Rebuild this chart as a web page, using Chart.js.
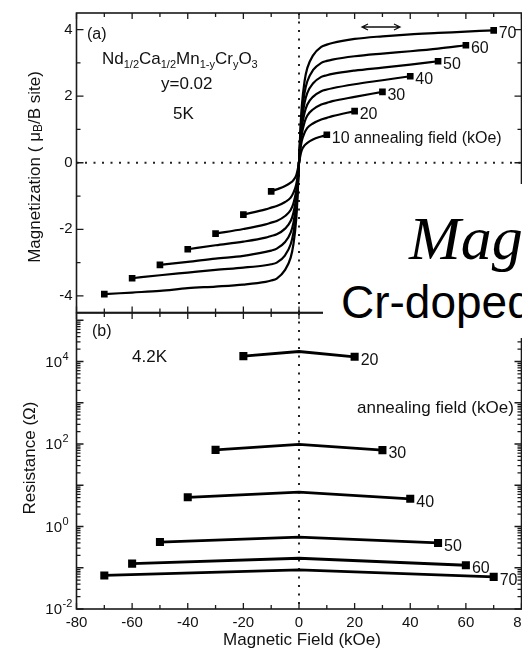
<!DOCTYPE html>
<html>
<head>
<meta charset="utf-8">
<script src="https://cdn.jsdelivr.net/npm/chart.js@4/dist/chart.umd.min.js"></script>
<style>
  html, body { margin: 0; padding: 0; background: #fff; overflow: hidden; }
  body { width: 522px; height: 653px; position: relative; }
  canvas { position: absolute; left: 0; }
  #slideBox { position: absolute; left: 323px; top: 184px; width: 230px; height: 154px; background: #fff; z-index: 5; overflow: visible; }
  #slideTitle { position: absolute; left: 86px; top: 23px; font: italic 62px "Liberation Serif", "Times New Roman", serif; line-height: 1; white-space: nowrap; color: #000; }
  #slideSub { position: absolute; left: 18px; top: 95px; font: 46px "Liberation Sans", Arial, sans-serif; line-height: 1; white-space: nowrap; color: #000; }
</style>
</head>
<body>
<canvas id="panelA" width="560" height="330" style="top:0"></canvas>
<canvas id="panelB" width="560" height="353" style="top:300px"></canvas>
<div id="slideBox">
  <div id="slideTitle">Magnetic</div>
  <div id="slideSub">Cr-doped</div>
</div>
<script>
// Panel (a): magnetization curves, one per annealing field (kOe)
const annealFields = [10, 20, 30, 40, 50, 60, 70];
const magField = [-70, -60, -50, -40, -30, -20, -12, -10, -8, -5, -3, -2, -1, -0.5, 0, 0.5, 1, 2, 3, 5, 8, 10, 12, 20, 30, 40, 50, 60, 70];
const mag10 = [null, null, null, null, null, null, null, -0.86, -0.8, -0.7, -0.6, -0.52, -0.38, -0.22, 0, 0.22, 0.38, 0.52, 0.6, 0.7, 0.79, 0.84, null, null, null, null, null, null, null];
const mag20 = [null, null, null, null, null, -1.56, -1.4, -1.35, -1.3, -1.18, -1.05, -0.9, -0.65, -0.4, 0, 0.4, 0.65, 0.9, 1.05, 1.18, 1.3, 1.35, 1.4, 1.55, null, null, null, null, null];
const mag30 = [null, null, null, null, -2.13, -1.99, -1.85, -1.8, -1.75, -1.6, -1.42, -1.22, -0.85, -0.52, 0, 0.52, 0.85, 1.22, 1.42, 1.6, 1.75, 1.8, 1.85, 1.98, 2.13, null, null, null, null];
const mag40 = [null, null, null, -2.6, -2.48, -2.37, -2.25, -2.2, -2.15, -1.98, -1.75, -1.5, -1.05, -0.62, 0, 0.62, 1.05, 1.5, 1.75, 1.98, 2.15, 2.2, 2.24, 2.36, 2.48, 2.6, null, null, null];
const mag50 = [null, null, -3.07, -2.98, -2.88, -2.8, -2.68, -2.64, -2.58, -2.38, -2.1, -1.8, -1.25, -0.75, 0, 0.75, 1.25, 1.8, 2.1, 2.38, 2.58, 2.63, 2.67, 2.77, 2.86, 2.95, 3.05, null, null];
const mag60 = [null, -3.47, -3.38, -3.3, -3.22, -3.15, -3.08, -3.05, -3.0, -2.78, -2.45, -2.1, -1.45, -0.85, 0, 0.85, 1.45, 2.1, 2.45, 2.78, 3.0, 3.06, 3.1, 3.2, 3.28, 3.35, 3.43, 3.53, null];
const mag70 = [-3.95, -3.9, -3.85, -3.77, -3.72, -3.66, -3.58, -3.54, -3.48, -3.22, -2.85, -2.45, -1.7, -1.0, 0, 1.0, 1.7, 2.45, 2.85, 3.22, 3.48, 3.55, 3.6, 3.72, 3.8, 3.86, 3.9, 3.94, 3.98];
const magCurves = [mag10, mag20, mag30, mag40, mag50, mag60, mag70];
const magEndLabels = ['10 annealing field (kOe)', '20', '30', '40', '50', '60', '70'];

// Panel (b): resistance at -H, 0, +H for each annealing field
const resAnneal = [20, 30, 40, 50, 60, 70];
const resLeft = [1.35e4, 72, 5.1, 0.42, 0.126, 0.065];
const resZero = [1.75e4, 98, 6.8, 0.55, 0.17, 0.089];
const resRight = [1.3e4, 71, 4.7, 0.40, 0.115, 0.060];
const resEndLabels = ['20', '30', '40', '50', '60', '70'];

// ticks
const xTickValues = [-80, -70, -60, -50, -40, -30, -20, -10, 0, 10, 20, 30, 40, 50, 60, 70, 80];
const magTickValues = [-4, -3, -2, -1, 0, 1, 2, 3, 4];
const magLabelValues = [-4, -2, 0, 2, 4];
const resDecades = [0.01, 0.1, 1, 10, 100, 1000, 10000, 100000];
const resLabelValues = [0.01, 1, 100, 10000];
const resLabelExps = ['-2', '0', '2', '4'];
const resMax = 1.5e5;

const FONT = '"Liberation Sans", Arial, sans-serif';
const INK = '#111';

function tickX(ctx, a, scale, values, isMajor) {
    values.forEach(v => {
        const p = scale.getPixelForValue(v);
        const len = isMajor(v) ? 6 : 4;
        ctx.moveTo(p, a.bottom); ctx.lineTo(p, a.bottom - len);
        ctx.moveTo(p, a.top); ctx.lineTo(p, a.top + len);
    });
}

function tickY(ctx, a, scale, values, isMajor) {
    values.forEach(v => {
        const p = scale.getPixelForValue(v);
        const len = isMajor(v) ? 7 : 4;
        ctx.moveTo(a.left, p); ctx.lineTo(a.left + len, p);
        ctx.moveTo(a.right, p); ctx.lineTo(a.right - len, p);
    });
}

function dottedLines(ctx, a, x, y, withZeroY) {
    ctx.save();
    ctx.strokeStyle = '#222';
    ctx.lineWidth = 2;
    ctx.setLineDash([2, 6.5]);
    ctx.beginPath();
    const px = x.getPixelForValue(0);
    ctx.moveTo(px, a.top); ctx.lineTo(px, a.bottom);
    if (withZeroY) {
        const py = y.getPixelForValue(0);
        ctx.moveTo(a.left, py); ctx.lineTo(a.right, py);
    }
    ctx.stroke();
    ctx.restore();
}

function frame(ctx, a) {
    ctx.strokeStyle = '#1a1a1a';
    ctx.lineWidth = 1.6;
    ctx.strokeRect(a.left, a.top, a.right - a.left, a.bottom - a.top);
}

function endLabels(chart, labels, dx, dy) {
    const ctx = chart.ctx;
    ctx.fillStyle = INK;
    ctx.font = '16px ' + FONT;
    ctx.textAlign = 'left';
    ctx.textBaseline = 'middle';
    labels.forEach((txt, i) => {
        const pts = chart.getDatasetMeta(i).data;
        const last = pts[pts.length - 1];
        ctx.fillText(txt, last.x + dx, last.y + dy);
    });
}

// draws text pieces with subscripts, starting at x
function richText(ctx, x, y, parts, big, small) {
    parts.forEach(([t, sub]) => {
        ctx.font = (sub ? small : big) + 'px ' + FONT;
        ctx.fillText(t, x, sub ? y + 4 : y);
        x += ctx.measureText(t).width;
    });
}

function richWidth(ctx, parts, big, small) {
    let w = 0;
    parts.forEach(([t, sub]) => {
        ctx.font = (sub ? small : big) + 'px ' + FONT;
        w += ctx.measureText(t).width;
    });
    return w;
}

const decorA = {
    id: 'decorA',
    beforeDatasetsDraw(chart) {
        const { ctx, chartArea: a, scales: { x, y } } = chart;
        dottedLines(ctx, a, x, y, true);
    },
    afterDatasetsDraw(chart) {
        const { ctx, chartArea: a, scales: { x, y } } = chart;
        ctx.save();
        frame(ctx, a);
        ctx.beginPath();
        ctx.lineWidth = 1.3;
        tickX(ctx, a, x, xTickValues, v => v % 20 === 0);
        tickY(ctx, a, y, magTickValues, v => v % 2 === 0);
        ctx.stroke();

        endLabels(chart, magEndLabels, 5, 3.5);

        ctx.fillStyle = INK;
        ctx.textBaseline = 'alphabetic';
        ctx.textAlign = 'left';
        ctx.font = '16px ' + FONT;
        ctx.fillText('(a)', 87, 39);
        richText(ctx, 102, 64, [['Nd'], ['1/2', 1], ['Ca'], ['1/2', 1], ['Mn'], ['1-y', 1], ['Cr'], ['y', 1], ['O'], ['3', 1]], 17, 11);
        ctx.font = '17px ' + FONT;
        ctx.fillText('y=0.02', 161, 89);
        ctx.fillText('5K', 173, 119);

        // double arrow
        ctx.strokeStyle = INK;
        ctx.lineWidth = 1.3;
        ctx.beginPath();
        ctx.moveTo(362, 27); ctx.lineTo(400, 27);
        ctx.moveTo(368, 24); ctx.lineTo(362, 27); ctx.lineTo(368, 30);
        ctx.moveTo(394, 24); ctx.lineTo(400, 27); ctx.lineTo(394, 30);
        ctx.stroke();

        // y title with subscript
        const parts = [['Magnetization ( \u03bc'], ['B', 1], ['/B site)']];
        const w = richWidth(ctx, parts, 17, 12);
        ctx.translate(35, 167);
        ctx.rotate(-Math.PI / 2);
        ctx.textBaseline = 'middle';
        richText(ctx, -w / 2, 0, parts, 17, 12);
        ctx.restore();
    }
};

const decorB = {
    id: 'decorB',
    beforeDatasetsDraw(chart) {
        const { ctx, chartArea: a, scales: { x, y } } = chart;
        dottedLines(ctx, a, x, y, false);
    },
    afterDatasetsDraw(chart) {
        const { ctx, chartArea: a, scales: { x, y } } = chart;
        ctx.save();
        frame(ctx, a);
        const logTicks = [];
        resDecades.forEach(d => {
            for (let k = 1; k <= 9; k++) {
                if (d * k <= resMax) logTicks.push(d * k);
            }
        });
        ctx.beginPath();
        ctx.lineWidth = 1.3;
        tickX(ctx, a, x, xTickValues, v => v % 20 === 0);
        tickY(ctx, a, y, logTicks, v => resDecades.includes(v));
        ctx.stroke();

        endLabels(chart, resEndLabels, 6, 3.5);

        // log tick labels 10^n
        ctx.fillStyle = INK;
        ctx.textBaseline = 'middle';
        resLabelValues.forEach((v, i) => {
            const py = y.getPixelForValue(v);
            ctx.textAlign = 'right';
            ctx.font = '15px ' + FONT;
            ctx.fillText('10', 62, py + 1);
            ctx.textAlign = 'left';
            ctx.font = '11px ' + FONT;
            ctx.fillText(resLabelExps[i], 62.5, py - 5);
        });

        ctx.textAlign = 'left';
        ctx.font = '16px ' + FONT;
        ctx.fillText('(b)', 92, 32);
        ctx.font = '17px ' + FONT;
        ctx.fillText('4.2K', 132, 57);
        ctx.fillText('annealing field (kOe)', 357, 108);

        ctx.textAlign = 'center';
        ctx.fillText('Magnetic Field (kOe)', 302, 340);

        ctx.translate(30, 158);
        ctx.rotate(-Math.PI / 2);
        ctx.fillText('Resistance (\u03a9)', 0, 0);
        ctx.restore();
    }
};

function endPointRadius(r) {
    return ctx => {
        const n = ctx.dataset.data.length;
        return (ctx.dataIndex === 0 || ctx.dataIndex === n - 1) ? r : 0;
    };
}

const hiddenGrid = { display: false, drawTicks: false };

new Chart(document.getElementById('panelA'), {
    type: 'line',
    data: {
        datasets: magCurves.map((curve, i) => ({
            label: annealFields[i] + ' kOe',
            data: magField.map((h, j) => ({ x: h, y: curve[j] })).filter(p => p.y !== null),
            borderColor: '#000',
            borderWidth: 2.2,
            cubicInterpolationMode: 'monotone',
            pointStyle: 'rect',
            pointRadius: endPointRadius(4.7),
            pointBackgroundColor: '#000',
            pointBorderColor: '#000',
            pointBorderWidth: 0,
            fill: false
        }))
    },
    options: {
        responsive: false,
        animation: false,
        layout: { padding: { left: 0, right: 38.5, top: 13, bottom: 17.5 } },
        plugins: { legend: { display: false }, tooltip: { enabled: false } },
        scales: {
            x: { type: 'linear', display: false, min: -80, max: 80 },
            y: {
                type: 'linear', min: -4.5, max: 4.5,
                afterFit(s) { s.width = 76.5; },
                afterBuildTicks(s) { s.ticks = magLabelValues.map(v => ({ value: v })); },
                grid: hiddenGrid,
                border: { display: false },
                ticks: { font: { family: FONT, size: 15 }, color: INK, padding: 4 }
            }
        }
    },
    plugins: [decorA]
});

new Chart(document.getElementById('panelB'), {
    type: 'line',
    data: {
        datasets: resAnneal.map((h, i) => ({
            label: h + ' kOe',
            data: [{ x: -h, y: resLeft[i] }, { x: 0, y: resZero[i] }, { x: h, y: resRight[i] }],
            borderColor: '#000',
            borderWidth: 2.8,
            pointStyle: 'rect',
            pointRadius: endPointRadius(5.7),
            pointBackgroundColor: '#000',
            pointBorderColor: '#000',
            pointBorderWidth: 0,
            fill: false
        }))
    },
    options: {
        responsive: false,
        animation: false,
        layout: { padding: { left: 0, right: 38.5, top: 13, bottom: 0 } },
        plugins: { legend: { display: false }, tooltip: { enabled: false } },
        scales: {
            x: {
                type: 'linear', min: -80, max: 80,
                afterFit(s) { s.height = 44; },
                grid: hiddenGrid,
                border: { display: false },
                ticks: { stepSize: 20, maxRotation: 0, font: { family: FONT, size: 15 }, color: INK, padding: 5 }
            },
            y: {
                type: 'logarithmic', min: 0.01, max: resMax,
                afterFit(s) { s.width = 76.5; },
                grid: hiddenGrid,
                border: { display: false },
                ticks: { display: false }
            }
        }
    },
    plugins: [decorB]
});
</script>
</body>
</html>
